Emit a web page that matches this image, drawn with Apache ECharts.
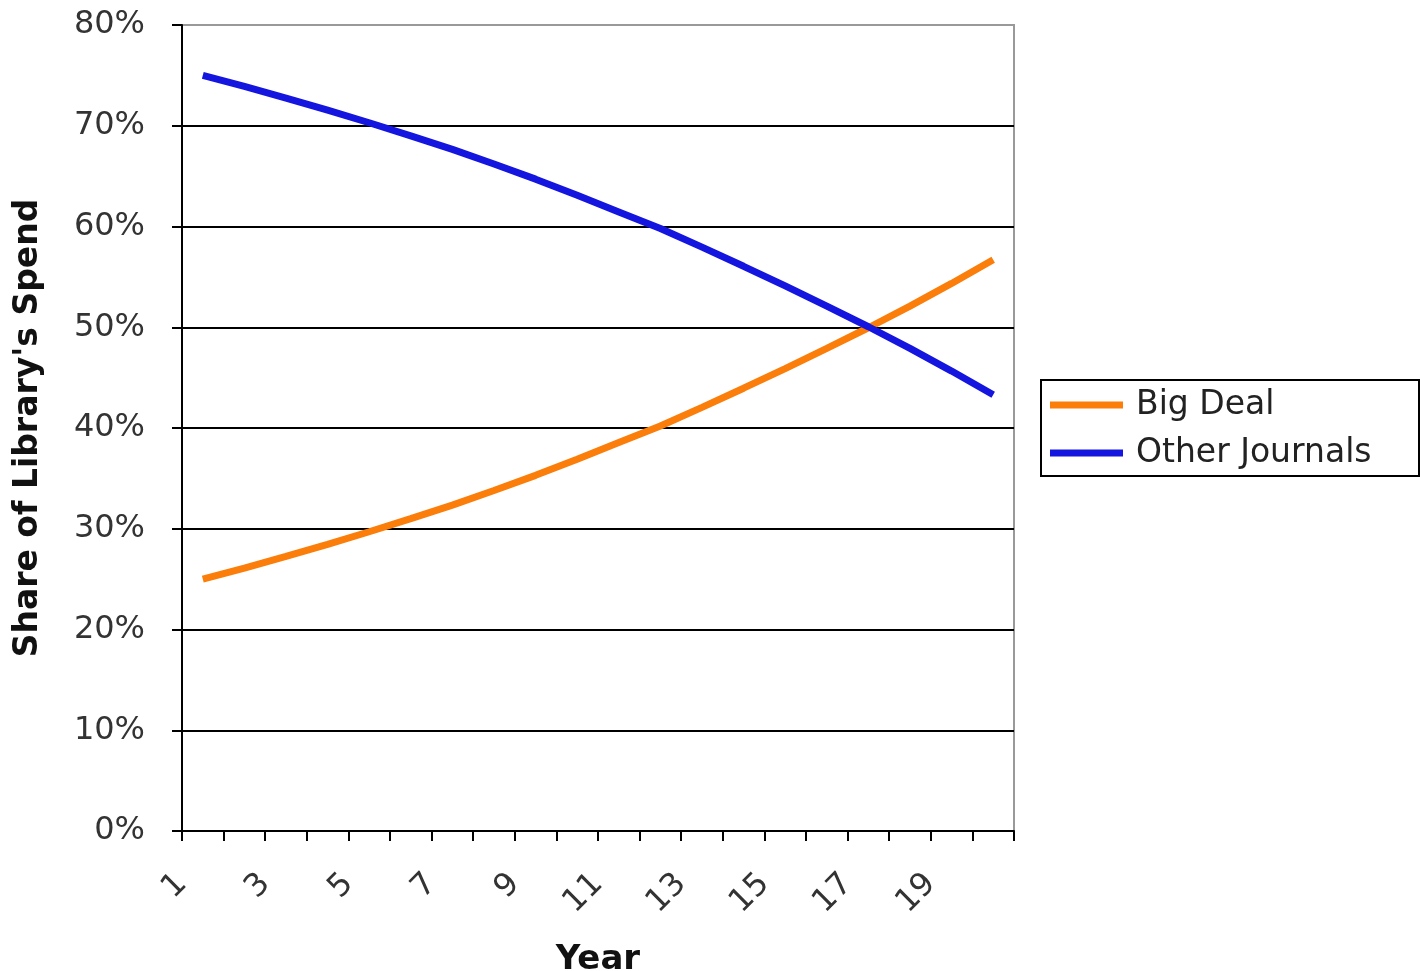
<!DOCTYPE html>
<html>
<head>
<meta charset="utf-8">
<script src="https://cdn.jsdelivr.net/npm/echarts@6/dist/echarts.min.js"></script>
<style>
  html, body { margin: 0; padding: 0; background: #fff; }
  #chart { width: 1421px; height: 971px; }
</style>
</head>
<body>
<div id="chart"></div>
<script>
// ---- data ----
const years = [1,2,3,4,5,6,7,8,9,10,11,12,13,14,15,16,17,18,19,20];
const bigDeal = [25.0,26.1,27.25,28.45,29.7,31.0,32.35,33.8,35.3,36.9,38.55,40.2,42.05,43.95,45.9,47.9,49.95,52.1,54.35,56.7];
const otherJournals = [75.0,73.9,72.75,71.55,70.3,69.0,67.65,66.2,64.7,63.1,61.45,59.8,57.95,56.05,54.1,52.1,50.05,47.9,45.65,43.3];
const seriesNames = ['Big Deal', 'Other Journals'];
const yTicks = [0,10,20,30,40,50,60,70,80];

// each year sits in the middle of its band (band i spans i-1 .. i on the value axis)
const toPoints = vals => vals.map((v, i) => [years[i] - 0.5, v]);

const chart = echarts.init(document.getElementById('chart'), null, { renderer: 'canvas' });
const FONT = 'DejaVu Sans, Verdana, sans-serif';

chart.setOption({
  backgroundColor: '#ffffff',
  animation: false,
  grid: {
    left: 182, top: 25, right: 407, bottom: 140,
    containLabel: false,
    outerBoundsMode: 'none',
    show: true, borderColor: '#999999', borderWidth: 2, backgroundColor: 'transparent'
  },
  xAxis: {
    type: 'value',
    min: 0, max: years.length, interval: 1,
    name: 'Year',
    nameLocation: 'middle',
    nameGap: 112,
    nameTextStyle: { fontFamily: FONT, fontSize: 34, fontWeight: 'bold', color: '#111' },
    axisLine: { show: true, onZero: false, lineStyle: { color: '#000', width: 2 } },
    axisTick: { show: true, length: 10, inside: false, lineStyle: { color: '#000', width: 2 } },
    splitLine: { show: false },
    axisLabel: {
      rotate: 45,
      margin: 48,
      fontFamily: FONT, fontSize: 32, color: '#333',
      showMinLabel: true, showMaxLabel: true,
      formatter: v => (v % 2 === 0 && v < years.length) ? String(years[v]) : ''
    }
  },
  yAxis: {
    type: 'value',
    min: yTicks[0], max: yTicks[yTicks.length - 1], interval: 10,
    name: "Share of Library's Spend",
    nameLocation: 'middle',
    nameGap: 137,
    nameTextStyle: { fontFamily: FONT, fontSize: 33, fontWeight: 'bold', color: '#111' },
    axisLine: { show: true, lineStyle: { color: '#000', width: 2 } },
    axisTick: { show: true, length: 10, inside: false, lineStyle: { color: '#000', width: 2 } },
    splitLine: {
      show: true,
      lineStyle: { color: ['#000','#000','#000','#000','#000','#000','#000','#000','#999'], width: 2 }
    },
    axisLabel: {
      margin: 37,
      fontFamily: FONT, fontSize: 32, color: '#333',
      formatter: '{value}%'
    }
  },
  legend: {
    orient: 'vertical',
    left: 1050, top: 385,
    padding: 0,
    itemWidth: 73, itemHeight: 7, itemGap: 8,
    icon: 'rect',
    data: seriesNames,
    textStyle: { fontFamily: FONT, fontSize: 33, color: '#222', lineHeight: 40, padding: [0, 0, 0, 8] }
  },
  graphic: [{
    type: 'rect',
    shape: { x: 1041, y: 380, width: 378, height: 96 },
    style: { fill: 'transparent', stroke: '#000', lineWidth: 2 },
    silent: true, z: 100
  }],
  series: [
    {
      name: seriesNames[0], type: 'line',
      data: toPoints(bigDeal),
      showSymbol: false, symbol: 'none',
      lineStyle: { color: '#fb7d0a', width: 7 },
      itemStyle: { color: '#fb7d0a' },
      z: 3
    },
    {
      name: seriesNames[1], type: 'line',
      data: toPoints(otherJournals),
      showSymbol: false, symbol: 'none',
      lineStyle: { color: '#1515e0', width: 7 },
      itemStyle: { color: '#1515e0' },
      z: 4
    }
  ]
});
</script>
</body>
</html>
